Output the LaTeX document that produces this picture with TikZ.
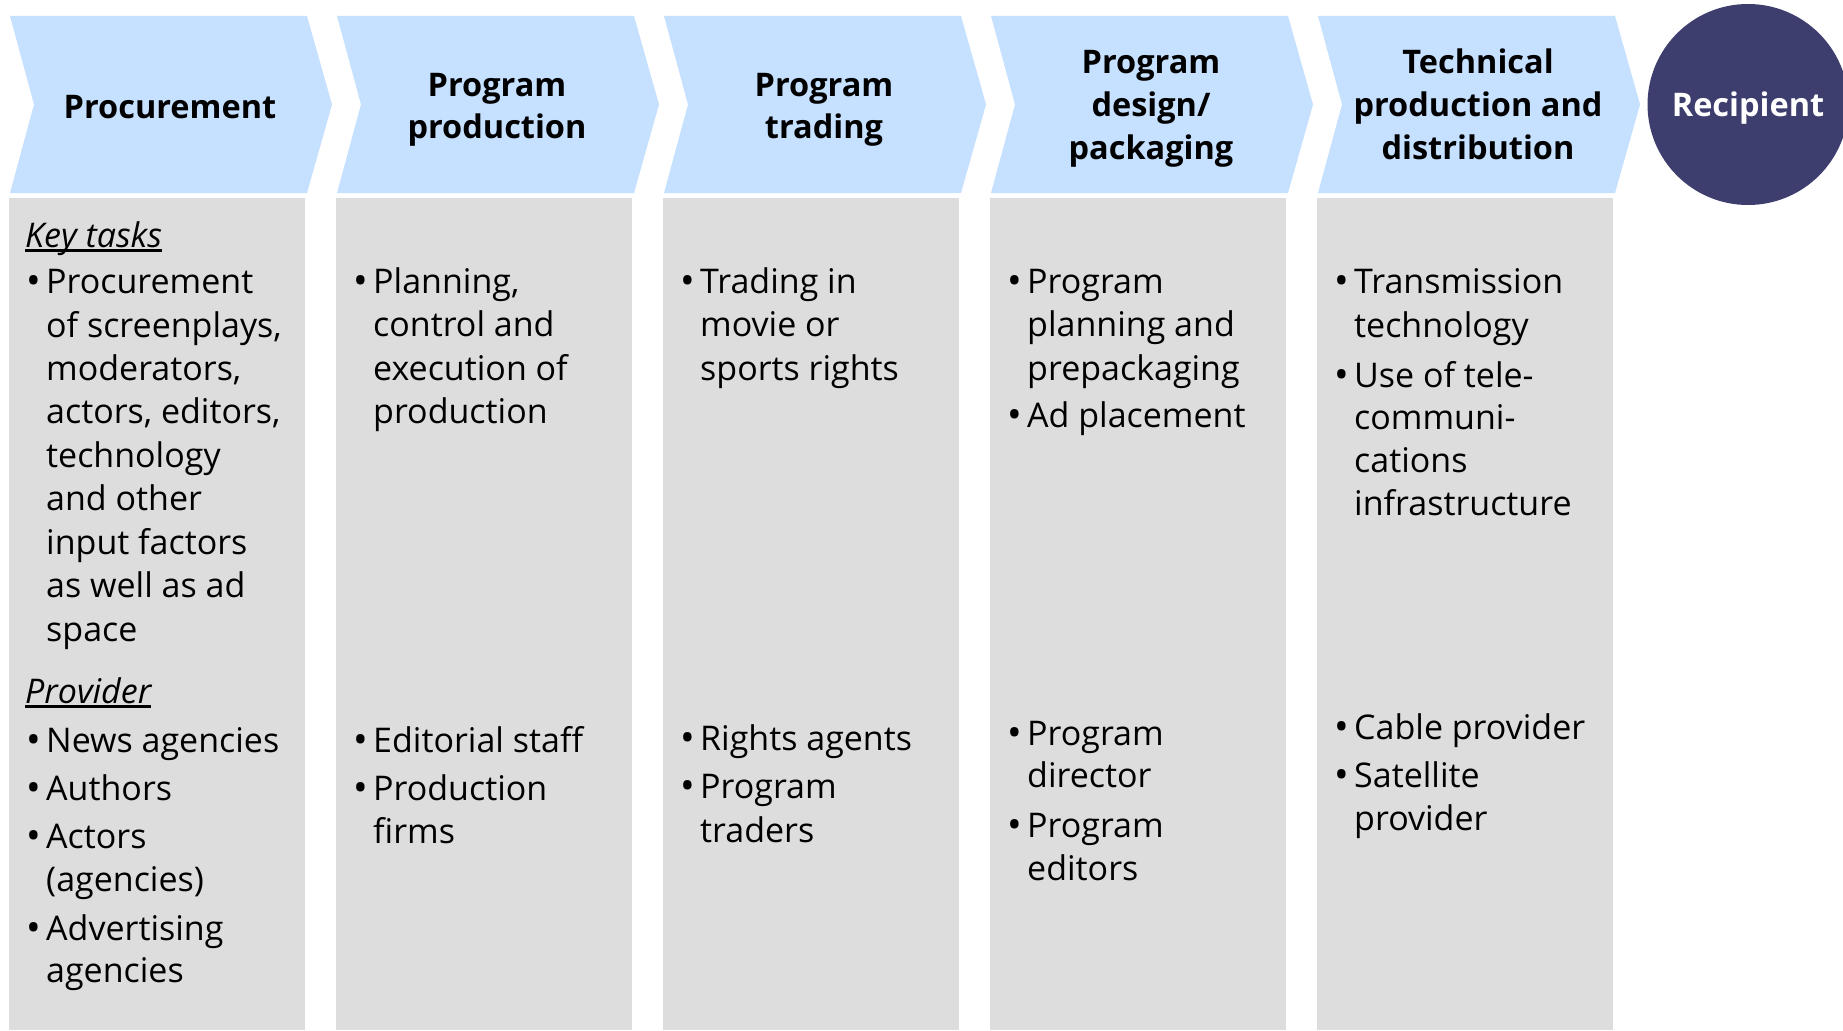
\documentclass[tikz,border=0pt]{standalone}
\usepackage{fontspec}
\setmainfont{Open Sans}
\definecolor{chev}{RGB}{198,224,255}
\definecolor{panel}{RGB}{221,221,221}
\definecolor{recip}{RGB}{61,61,110}
\newcommand\bul{\makebox[20pt][l]{\hspace*{0.5pt}\raisebox{-1.5pt}{\fontsize{39}{39}\selectfont\textbullet}}}
\begin{document}
\begin{tikzpicture}[x=1pt,y=-1pt,
  chevfill/.style={fill=chev, draw=none},
  panelfill/.style={fill=panel, draw=none},
  txt/.style={anchor=base west, inner sep=0pt, font=\fontsize{34}{43}\selectfont, text=black},
  lbl/.style={anchor=base west, inner sep=0pt, font=\fontsize{34}{43}\selectfont\itshape, text=black},
  hdr/.style={anchor=base, inner sep=0pt, font=\fontsize{32.5}{43}\selectfont\bfseries, text=black},
  ulline/.style={line width=2.2pt, black},
]
\useasboundingbox (0,0) rectangle (1843,1030);
\fill[white] (0,0) rectangle (1843,1030);
\foreach \i in {0,...,4}{
  \pgfmathsetmacro\L{10+327*\i}
  \fill[chevfill] (\L,16) -- ++(297,0) -- ++(25,88.5) -- ++(-25,88.5) -- ++(-297,0) -- ++(24,-88.5) -- cycle;
  \fill[panelfill] (\L-1,198) rectangle ++(296,832);
}
\node[circle, fill=recip, draw=none, minimum size=201pt, inner sep=0pt] (rec) at (1748,104.5) {};
\node[hdr, text=white] (rectxt) at (1748,117) {Recipient};

% headers
\node[hdr] (h1) at (170,118) {Procurement};
\node[hdr] (h2a) at (497,97) {Program};
\node[hdr] (h2b) at (497,139) {production};
\node[hdr] (h3a) at (824,97) {Program};
\node[hdr] (h3b) at (824,139) {trading};
\node[hdr] (h4a) at (1151,74) {Program};
\node[hdr] (h4b) at (1151,117) {design/};
\node[hdr] (h4c) at (1151,159) {packaging};
\node[hdr] (h5a) at (1478,74) {Technical};
\node[hdr] (h5b) at (1478,117) {production and};
\node[hdr] (h5c) at (1478,159) {distribution};

% column 1
\node[lbl] (kt) at (25,247) {Key tasks};
\draw[ulline] ([yshift=-3.5pt]kt.base west) -- ([yshift=-3.5pt]kt.base east);
\node[txt] (c1a) at (26,293) {\bul Procurement};
\node[txt] (c1b) at (46,337) {of screenplays,};
\node[txt] (c1c) at (46,380) {moderators,};
\node[txt] (c1d) at (46,423.5) {actors, editors,};
\node[txt] (c1e) at (46,467) {technology};
\node[txt] (c1f) at (46,510) {and other};
\node[txt] (c1g) at (46,554) {input factors};
\node[txt] (c1h) at (46,597) {as well as ad};
\node[txt] (c1i) at (46,641) {space};
\node[lbl] (pr) at (25,703) {Provider};
\draw[ulline] ([yshift=-3.5pt]pr.base west) -- ([yshift=-3.5pt]pr.base east);
\node[txt] (c1j) at (26,752) {\bul News agencies};
\node[txt] (c1k) at (26,800) {\bul Authors};
\node[txt] (c1l) at (26,848) {\bul Actors};
\node[txt] (c1m) at (46,891) {(agencies)};
\node[txt] (c1n) at (26,940) {\bul Advertising};
\node[txt] (c1o) at (46,982) {agencies};

% column 2
\node[txt] (c2a) at (353,293) {\bul Planning,};
\node[txt] (c2b) at (373,336.5) {control and};
\node[txt] (c2c) at (373,380) {execution of};
\node[txt] (c2d) at (373,423.5) {production};
\node[txt] (c2e) at (353,752) {\bul Editorial staff};
\node[txt] (c2f) at (353,800) {\bul Production};
\node[txt] (c2g) at (373,843) {firms};

% column 3
\node[txt] (c3a) at (680,293) {\bul Trading in};
\node[txt] (c3b) at (700,336.5) {movie or};
\node[txt] (c3c) at (700,380) {sports rights};
\node[txt] (c3d) at (680,750) {\bul Rights agents};
\node[txt] (c3e) at (680,798) {\bul Program};
\node[txt] (c3f) at (700,842) {traders};

% column 4
\node[txt] (c4a) at (1007,293) {\bul Program};
\node[txt] (c4b) at (1027,336.5) {planning and};
\node[txt] (c4c) at (1027,380) {prepackaging};
\node[txt] (c4d) at (1007,427) {\bul Ad placement};
\node[txt] (c4e) at (1007,745) {\bul Program};
\node[txt] (c4f) at (1027,787) {director};
\node[txt] (c4g) at (1007,837) {\bul Program};
\node[txt] (c4h) at (1027,880) {editors};

% column 5
\node[txt] (c5a) at (1334,293) {\bul Transmission};
\node[txt] (c5b) at (1354,337) {technology};
\node[txt] (c5c) at (1334,387) {\bul Use of tele-};
\node[txt] (c5d) at (1354,429) {communi-};
\node[txt] (c5e) at (1354,472) {cations};
\node[txt] (c5f) at (1354,515) {infrastructure};
\node[txt] (c5g) at (1334,739) {\bul Cable provider};
\node[txt] (c5h) at (1334,787) {\bul Satellite};
\node[txt] (c5i) at (1354,830) {provider};
\end{tikzpicture}
\end{document}
